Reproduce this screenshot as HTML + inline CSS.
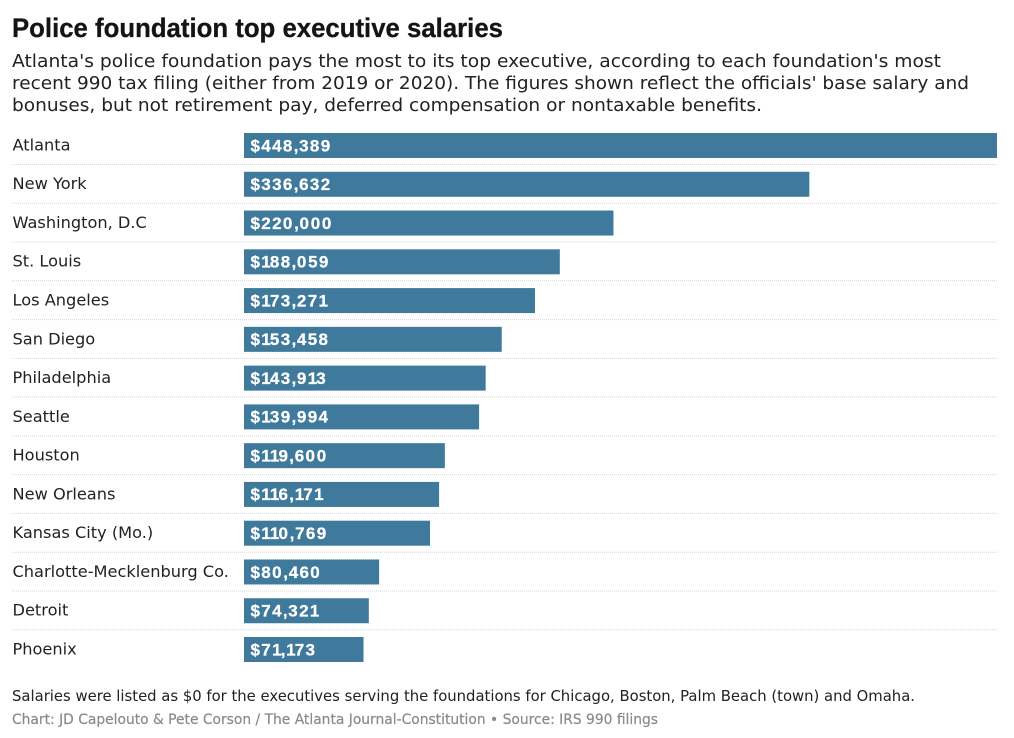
<!DOCTYPE html>
<html lang="en">
<head>
<meta charset="utf-8">
<title>Police foundation top executive salaries</title>
<style>
html,body{margin:0;padding:0;background:#fff;}
svg{display:block;}
text{font-family:"DejaVu Sans",sans-serif;}
</style>
</head>
<body>
<svg id="chart" xmlns="http://www.w3.org/2000/svg" width="1014" height="738" viewBox="0 0 1014 738">
  <rect x="0" y="0" width="1014" height="738" fill="#fff"/>
  <text x="12" y="37" textLength="491" lengthAdjust="spacingAndGlyphs" style="font-family:'Liberation Sans',sans-serif;font-weight:700;font-size:27px" fill="#141414" stroke="#141414" stroke-width="0.3">Police foundation top executive salaries</text>
  <g font-size="18px" fill="#222">
    <text x="12" y="67" textLength="929" lengthAdjust="spacingAndGlyphs">Atlanta's police foundation pays the most to its top executive, according to each foundation's most</text>
    <text x="12" y="89" textLength="957" lengthAdjust="spacingAndGlyphs">recent 990 tax filing (either from 2019 or 2020). The figures shown reflect the officials' base salary and</text>
    <text x="12" y="111" textLength="750" lengthAdjust="spacingAndGlyphs">bonuses, but not retirement pay, deferred compensation or nontaxable benefits.</text>
  </g>
  <g id="rows"></g>
  <text x="12" y="701" font-size="15px" fill="#222" textLength="903" lengthAdjust="spacingAndGlyphs">Salaries were listed as $0 for the executives serving the foundations for Chicago, Boston, Palm Beach (town) and Omaha.</text>
  <text x="12" y="724" font-size="14px" fill="#8a8a8a" stroke="#8a8a8a" stroke-width="0.2" textLength="646" lengthAdjust="spacingAndGlyphs">Chart: JD Capelouto &amp; Pete Corson / The Atlanta Journal-Constitution • Source: IRS 990 filings</text>
</svg>
<script>
const categories = ["Atlanta","New York","Washington, D.C","St. Louis","Los Angeles","San Diego","Philadelphia","Seattle","Houston","New Orleans","Kansas City (Mo.)","Charlotte-Mecklenburg Co.","Detroit","Phoenix"];
const salaries = [448389,336632,220000,188059,173271,153458,143913,139994,119600,116171,110769,80460,74321,71173];

const NS = "http://www.w3.org/2000/svg";
const plotLeft = 244, plotRight = 997, rowTop = 133, rowStep = 38.77, barHeight = 25;
const domainMax = 448389;
const xScale = v => (v / domainMax) * (plotRight - plotLeft);
const yScale = i => rowTop + i * rowStep;
const money = v => "$" + v.toLocaleString("en-US");
// proportional digit advances: the reference face has a narrow "1" and a wide "0"
const advance = ch => ch === "1" ? 8.6 : ch === "," ? 5.4 : ch === "0" ? 11.2 : 10.8;
const glyphXs = (str, startX) => {
  let x = startX;
  return Array.from(str).map(ch => {
    const here = x;
    x += advance(ch);
    return here.toFixed(1);
  }).join(" ");
};
const rows = document.getElementById("rows");

categories.forEach((name, i) => {
  const y = yScale(i);

  const label = document.createElementNS(NS, "text");
  
  
  label.setAttribute("x", 12.5);
  label.setAttribute("y", y + 17.4);
  label.setAttribute("font-size", "16.2px");
  label.setAttribute("fill", "#222");
  label.textContent = name;
  rows.appendChild(label);

  const bar = document.createElementNS(NS, "rect");
  
  
  bar.setAttribute("x", plotLeft);
  bar.setAttribute("y", y);
  bar.setAttribute("width", xScale(salaries[i]));
  bar.setAttribute("height", barHeight);
  bar.setAttribute("fill", "#3f7a9c");
  rows.appendChild(bar);

  const valueText = money(salaries[i]);
  const value = document.createElementNS(NS, "text");
  
  
  value.setAttribute("x", glyphXs(valueText, plotLeft + 6.5));
  value.setAttribute("y", y + 18.3);
  value.setAttribute("font-size", "17px");
  value.setAttribute("font-weight", "700");
  value.setAttribute("style", "font-family:'Liberation Sans',sans-serif");
  value.setAttribute("fill", "#fff");
  value.setAttribute("stroke", "#fff");
  value.setAttribute("stroke-width", "0.25");
  value.textContent = valueText;
  rows.appendChild(value);

  if (i < categories.length - 1) {
    const rule = document.createElementNS(NS, "line");
    
    
    rule.setAttribute("x1", 12);
    rule.setAttribute("x2", plotRight);
    rule.setAttribute("y1", y + 31.5);
    rule.setAttribute("y2", y + 31.5);
    rule.setAttribute("stroke", "#d4d4d4");
    rule.setAttribute("stroke-width", "1");
    rule.setAttribute("stroke-dasharray", "1 1");
    rows.appendChild(rule);
  }
});
</script>
</body>
</html>
